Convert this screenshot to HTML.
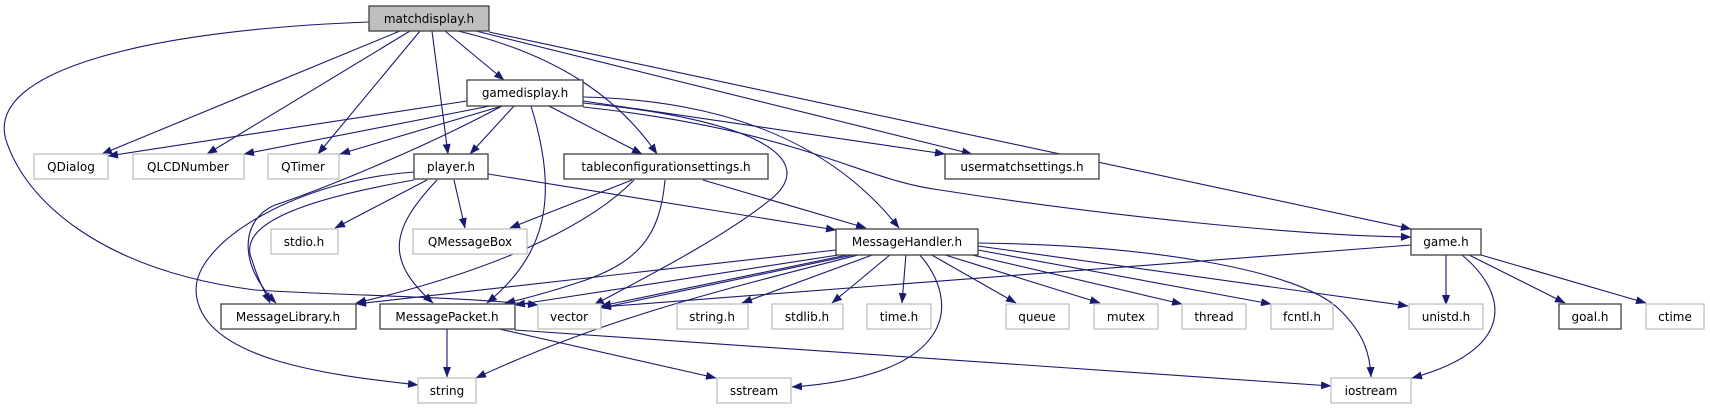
<!DOCTYPE html>
<html><head><meta charset="utf-8"><style>
html,body{margin:0;padding:0;background:#fff;}
svg{display:block;}
text{font-family:"DejaVu Sans","Liberation Sans",sans-serif;font-size:12px;fill:#000;}
.e{fill:none;stroke:#191970;stroke-width:1.1;}
.d{fill:#fff;stroke:#404040;stroke-width:1.3;}
.g{fill:#fff;stroke:#bfbfbf;stroke-width:1.3;}
</style></head><body>
<svg width="1710" height="411" viewBox="0 0 1710 411" xmlns="http://www.w3.org/2000/svg">
<defs>
<marker id="a" markerWidth="11" markerHeight="8" refX="10" refY="4" orient="auto" markerUnits="userSpaceOnUse">
<polygon points="0,0 10.5,4 0,8" fill="#191970"/>
</marker>
</defs>
<g marker-end="url(#a)">
<!-- matchdisplay -->
<path class="e" d="M400,31 L102,154"/>
<path class="e" d="M410,31 L207,154"/>
<path class="e" d="M420,31 L318,154"/>
<path class="e" d="M432,31 L448,154"/>
<path class="e" d="M445,31 L504,80"/>
<path class="e" d="M458,31 C560,55 620,100 657,154"/>
<path class="e" d="M476,31 L972,154"/>
<path class="e" d="M489,32 L1411,229"/>
<path class="e" d="M369,22 C150,30 -15,70 6,140 C25,200 100,270 255,290 C350,296 450,296 538,305"/>
<!-- gamedisplay -->
<path class="e" d="M467,101 L108,156"/>
<path class="e" d="M490,106 L244,154"/>
<path class="e" d="M502,106 L340,154"/>
<path class="e" d="M514,106 L470,154"/>
<path class="e" d="M502,106 C420,150 320,190 275,205 C240,220 238,265 276,303"/>
<path class="e" d="M531,106 C560,200 545,255 487,303"/>
<path class="e" d="M549,106 L642,154"/>
<path class="e" d="M583,101 L945,154"/>
<path class="e" d="M583,97 C720,100 830,140 899,228"/>
<path class="e" d="M583,103 C760,120 820,160 770,200 C720,240 640,280 594,305"/>
<path class="e" d="M583,107 C800,130 860,180 940,190 C1100,215 1300,236 1411,237"/>
<!-- player -->
<path class="e" d="M414,172 C300,180 196,240 196,290 C198,360 330,375 418,385"/>
<path class="e" d="M414,180 C300,200 236,225 252,260 C258,280 264,290 270,303"/>
<path class="e" d="M427,180 L335,228"/>
<path class="e" d="M454,180 L465,228"/>
<path class="e" d="M437,180 C390,230 385,260 433,303"/>
<path class="e" d="M488,174 L836,230"/>
<!-- tableconfig -->
<path class="e" d="M632,180 L510,228"/>
<path class="e" d="M634,180 C600,215 520,265 356,303"/>
<path class="e" d="M665,180 C660,235 640,262 580,282 C550,292 520,300 505,303"/>
<path class="e" d="M703,180 L866,228"/>
<!-- MessageHandler -->
<path class="e" d="M836,250 L356,304"/>
<path class="e" d="M845,254 L515,305"/>
<path class="e" d="M852,254 L601,306"/>
<path class="e" d="M858,254 L601,308"/>
<path class="e" d="M862,254 C720,290 600,320 476,378"/>
<path class="e" d="M875,254 L742,303"/>
<path class="e" d="M891,254 L832,303"/>
<path class="e" d="M906,254 L902,303"/>
<path class="e" d="M919,254 C960,300 960,375 792,387"/>
<path class="e" d="M930,254 L1016,303"/>
<path class="e" d="M942,254 L1100,303"/>
<path class="e" d="M968,254 L1182,304"/>
<path class="e" d="M978,250 L1271,304"/>
<path class="e" d="M978,246 L1408,306"/>
<path class="e" d="M978,243 C1150,245 1300,270 1340,310 C1365,335 1370,355 1371,377"/>
<!-- game -->
<path class="e" d="M1411,245 L601,307"/>
<path class="e" d="M1446,255 L1446,305"/>
<path class="e" d="M1462,255 C1510,295 1515,350 1412,378"/>
<path class="e" d="M1469,255 L1565,303"/>
<path class="e" d="M1481,255 L1646,303"/>
<!-- MessagePacket -->
<path class="e" d="M447,328 L447,377"/>
<path class="e" d="M495,328 L716,378"/>
<path class="e" d="M515,330 L1331,386"/>
</g>
<!-- nodes -->
<rect x="369" y="6" width="120" height="25" fill="#bfbfbf" stroke="#404040" stroke-width="1.3"/>
<text x="429" y="23" text-anchor="middle">matchdisplay.h</text>
<rect class="d" x="467" y="80" width="116" height="26"/><text x="525" y="97" text-anchor="middle">gamedisplay.h</text>
<rect class="g" x="34" y="154" width="74" height="25"/><text x="71" y="171" text-anchor="middle">QDialog</text>
<rect class="g" x="133" y="154" width="111" height="25"/><text x="188" y="171" text-anchor="middle">QLCDNumber</text>
<rect class="g" x="268" y="154" width="71" height="25"/><text x="303" y="171" text-anchor="middle">QTimer</text>
<rect class="d" x="414" y="154" width="74" height="25"/><text x="451" y="171" text-anchor="middle">player.h</text>
<rect class="d" x="564" y="154" width="204" height="25"/><text x="666" y="171" text-anchor="middle">tableconfigurationsettings.h</text>
<rect class="d" x="945" y="154" width="154" height="25"/><text x="1022" y="171" text-anchor="middle">usermatchsettings.h</text>
<rect class="g" x="271" y="229" width="67" height="25"/><text x="304" y="246" text-anchor="middle">stdio.h</text>
<rect class="g" x="413" y="229" width="114" height="25"/><text x="470" y="246" text-anchor="middle">QMessageBox</text>
<rect class="d" x="836" y="229" width="142" height="26"/><text x="907" y="246" text-anchor="middle">MessageHandler.h</text>
<rect class="d" x="1411" y="229" width="70" height="26"/><text x="1446" y="246" text-anchor="middle">game.h</text>
<rect class="d" x="221" y="304" width="135" height="25"/><text x="288" y="321" text-anchor="middle">MessageLibrary.h</text>
<rect class="d" x="380" y="304" width="135" height="25"/><text x="447" y="321" text-anchor="middle">MessagePacket.h</text>
<rect class="g" x="538" y="304" width="63" height="25"/><text x="569" y="321" text-anchor="middle">vector</text>
<rect class="g" x="677" y="304" width="71" height="25"/><text x="712" y="321" text-anchor="middle">string.h</text>
<rect class="g" x="772" y="304" width="71" height="25"/><text x="807" y="321" text-anchor="middle">stdlib.h</text>
<rect class="g" x="867" y="304" width="64" height="25"/><text x="899" y="321" text-anchor="middle">time.h</text>
<rect class="g" x="1006" y="304" width="63" height="25"/><text x="1037" y="321" text-anchor="middle">queue</text>
<rect class="g" x="1094" y="304" width="64" height="25"/><text x="1126" y="321" text-anchor="middle">mutex</text>
<rect class="g" x="1182" y="304" width="64" height="25"/><text x="1214" y="321" text-anchor="middle">thread</text>
<rect class="g" x="1271" y="304" width="62" height="25"/><text x="1302" y="321" text-anchor="middle">fcntl.h</text>
<rect class="g" x="1409" y="304" width="74" height="25"/><text x="1446" y="321" text-anchor="middle">unistd.h</text>
<rect class="d" x="1559" y="304" width="62" height="25"/><text x="1590" y="321" text-anchor="middle">goal.h</text>
<rect class="g" x="1646" y="304" width="58" height="25"/><text x="1675" y="321" text-anchor="middle">ctime</text>
<rect class="g" x="418" y="378" width="58" height="25"/><text x="447" y="395" text-anchor="middle">string</text>
<rect class="g" x="717" y="378" width="74" height="25"/><text x="754" y="395" text-anchor="middle">sstream</text>
<rect class="g" x="1331" y="378" width="80" height="25"/><text x="1371" y="395" text-anchor="middle">iostream</text>
</svg>
</body></html>
